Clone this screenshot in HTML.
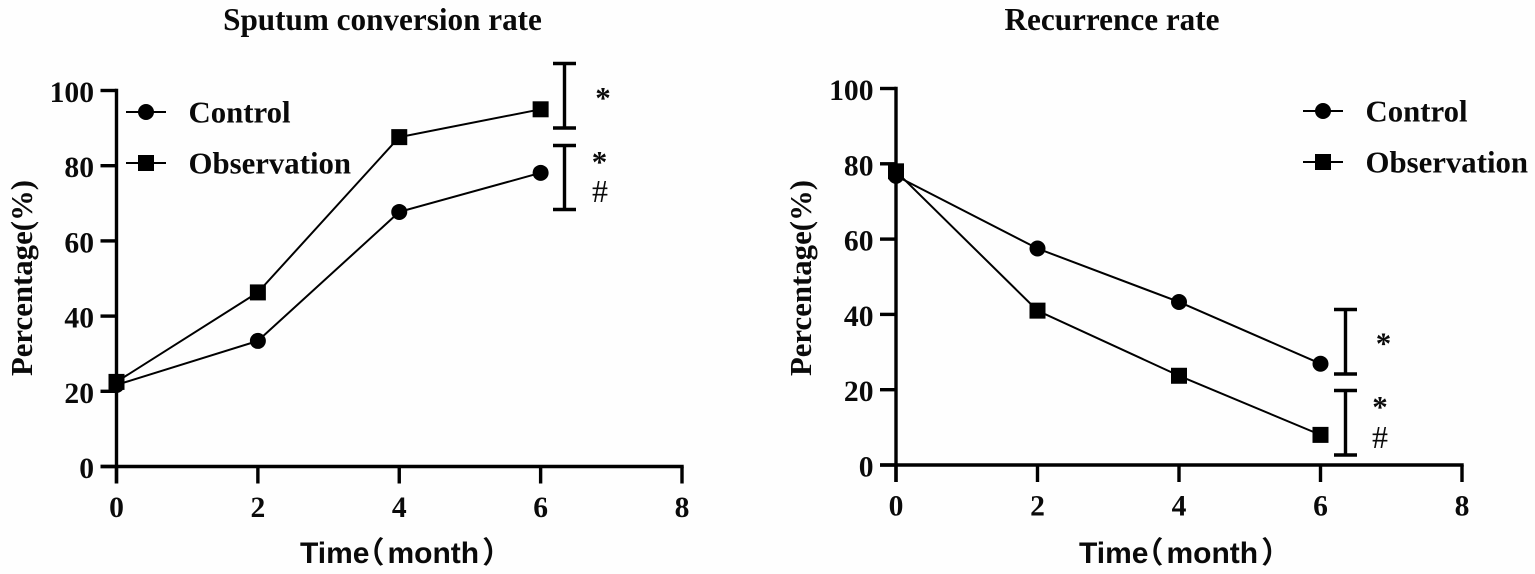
<!DOCTYPE html>
<html>
<head>
<meta charset="utf-8">
<title>Sputum conversion and recurrence rate</title>
<style>
html,body{margin:0;padding:0;background:#fefefe;width:1535px;height:574px;overflow:hidden}
svg{display:block}
text{fill:#0a0a0a;font-family:"Liberation Serif","Noto Serif CJK SC",serif;font-weight:bold}
</style>
</head>
<body>
<svg id="figure" width="1535" height="574" viewBox="0 0 1535 574" xmlns="http://www.w3.org/2000/svg"></svg>
<script>
const xTicks = [0, 2, 4, 6, 8];
const yTicks = [0, 20, 40, 60, 80, 100];
const months = [0, 2, 4, 6];
const seriesNames = ['Control', 'Observation'];
const sputumControl = [21.7, 33.4, 67.7, 78.1];
const sputumObservation = [22.5, 46.3, 87.6, 95];
const recurrenceControl = [76.8, 57.5, 43.3, 26.9];
const recurrenceObservation = [78, 41, 23.7, 8];

const svg = document.getElementById('figure');
const NS = 'http://www.w3.org/2000/svg';

function add(tag, attrs, text) {
  const el = document.createElementNS(NS, tag);
  for (const k in attrs) el.setAttribute(k, attrs[k]);
  if (text !== undefined) el.textContent = text;
  svg.appendChild(el);
  return el;
}

function drawMarker(kind, cx, cy, name) {
  let el;
  if (kind === 0) {
    el = add('circle', {cx: cx, cy: cy, r: 8, fill: '#000'});
  } else {
    el = add('rect', {x: cx - 8, y: cy - 8, width: 16, height: 16, fill: '#000'});
  }
  
  
}

function drawBracket(x, top, bottom, name) {
  const d = 'M' + (x - 11.5) + ' ' + top + 'H' + (x + 11.5) + 'M' + x + ' ' + top + 'V' + bottom + 'M' + (x - 11.5) + ' ' + bottom + 'H' + (x + 11.5);
  const el = add('path', {d: d, fill: 'none', stroke: '#000', 'stroke-width': 3.4});
  
  
}

function drawNote(x, y, size, weight, glyph, name) {
  const el = add('text', {x: x, y: y, 'font-size': size, 'text-anchor': 'middle'}, glyph);
  el.style.fontWeight = weight;
  
  
}

function appendSpan(parent, dx, content) {
  const span = document.createElementNS(NS, 'tspan');
  span.setAttribute('dx', dx);
  span.textContent = content;
  parent.appendChild(span);
}

function drawChart(p, controlValues, observationValues) {
  const sx = v => p.x0 + (p.x8 - p.x0) * v / 8;
  const sy = v => p.y0 + (p.y100 - p.y0) * v / 100;

  const title = add('text', {x: p.titleX, y: 30, 'font-size': 31.2, 'text-anchor': 'middle'}, p.title);
  
  

  const yAxis = add('line', {x1: p.x0, x2: p.x0, y1: sy(100) - 1.7, y2: p.y0 + 17, stroke: '#000', 'stroke-width': 3.4});
  
  

  const xAxis = add('line', {x1: p.x0 - 16, x2: sx(8) + 1.7, y1: p.y0, y2: p.y0, stroke: '#000', 'stroke-width': 3.4});
  
  

  yTicks.forEach(t => {
    const tick = add('line', {x1: p.x0 - 16, x2: p.x0, y1: sy(t), y2: sy(t), stroke: '#000', 'stroke-width': 3.4});
    
    
    const label = add('text', {x: p.x0 - 22.5, y: sy(t) + 11.5, 'font-size': 29.6, 'text-anchor': 'end'}, String(t));
    
    
  });

  xTicks.forEach(t => {
    const tick = add('line', {x1: sx(t), x2: sx(t), y1: p.y0, y2: p.y0 + 17, stroke: '#000', 'stroke-width': 3.4});
    
    
    const label = add('text', {x: sx(t), y: p.y0 + 50.5, 'font-size': 29.6, 'text-anchor': 'middle'}, String(t));
    
    
  });

  const yTitle = add('text', {x: 0, y: 0, 'font-size': 30.8, 'text-anchor': 'middle', transform: 'translate(' + p.yTitleX + ' ' + p.yTitleY + ') rotate(-90)'}, 'Percentage(%)');
  
  

  const xTitle = add('text', {x: p.xTitleX, y: 563, 'font-size': 30}, 'Time');
  xTitle.style.fontFamily = '"Liberation Sans","Noto Sans CJK SC",sans-serif';
  
  
  appendSpan(xTitle, '-15', '（');
  appendSpan(xTitle, '3', 'month');
  appendSpan(xTitle, '3', '）');

  [controlValues, observationValues].forEach((values, s) => {
    const pts = values.map((v, i) => sx(months[i]) + ',' + sy(v)).join(' ');
    const line = add('polyline', {points: pts, fill: 'none', stroke: '#000', 'stroke-width': 2});
    
    
    values.forEach((v, i) => {
      drawMarker(s, sx(months[i]), sy(v), p.id + '-point-' + seriesNames[s].toLowerCase());
    });

    const ly = p.legendY[s];
    const swatch = add('line', {x1: p.legendX, x2: p.legendX + 40, y1: ly, y2: ly, stroke: '#000', 'stroke-width': 2});
    
    
    drawMarker(s, p.legendX + 20, ly, p.id + '-legend-marker-' + seriesNames[s].toLowerCase());
    const entry = add('text', {x: p.legendX + 62.5, y: ly + 10.5, 'font-size': 30.8}, seriesNames[s]);
    
    
  });

  drawBracket(p.bracketX, p.bracketA[0], p.bracketA[1], p.id + '-significance-bracket-upper');
  drawBracket(p.bracketX, p.bracketB[0], p.bracketB[1], p.id + '-significance-bracket-lower');
  drawNote(p.noteA[0], p.noteA[1], 31, 'bold', '*', p.id + '-significance-star-upper');
  drawNote(p.noteB[0], p.noteB[1], 31, 'bold', '*', p.id + '-significance-star-lower');
  drawNote(p.noteC[0], p.noteC[1], 32, 'normal', '#', p.id + '-significance-hash');
}

drawChart({
  id: 'sputum', title: 'Sputum conversion rate', titleX: 382.5,
  x0: 116.5, x8: 682, y0: 466.5, y100: 90.5,
  yTitleX: 32, yTitleY: 278, xTitleX: 300,
  legendX: 126, legendY: [112, 163],
  bracketX: 564.5, bracketA: [63.5, 128], bracketB: [145.5, 209.5],
  noteA: [603, 108], noteB: [599.5, 172], noteC: [600, 202]
}, sputumControl, sputumObservation);

drawChart({
  id: 'recurrence', title: 'Recurrence rate', titleX: 1112,
  x0: 896, x8: 1462, y0: 465, y100: 88.5,
  yTitleX: 811, yTitleY: 278, xTitleX: 1079,
  legendX: 1303, legendY: [111, 162],
  bracketX: 1345.5, bracketA: [309.5, 374], bracketB: [390.5, 455],
  noteA: [1383.5, 353.5], noteB: [1380, 417], noteC: [1380, 448]
}, recurrenceControl, recurrenceObservation);
</script>
</body>
</html>
